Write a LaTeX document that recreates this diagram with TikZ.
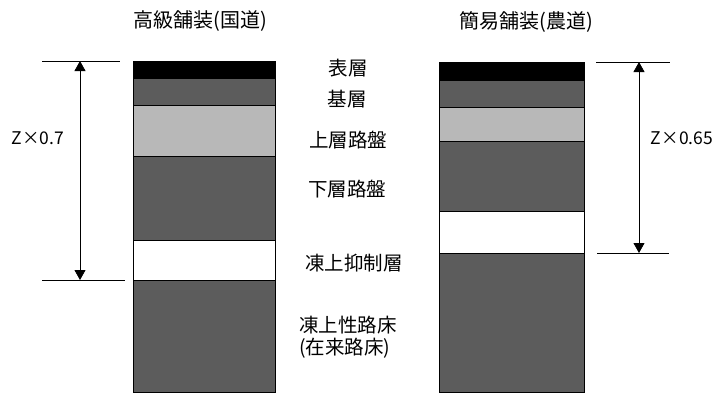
\documentclass[tikz,border=0pt]{standalone}
\usepackage{fontspec}
\setmainfont{Noto Sans CJK JP}
\usetikzlibrary{arrows.meta}
\definecolor{darkg}{gray}{0.36}
\definecolor{lightg}{gray}{0.72}
\begin{document}
\begin{tikzpicture}[x=1pt,y=-1pt,
  layer/.style={draw=black,line width=0.8pt,anchor=north west,inner sep=0pt,minimum width=#1},
  lbl/.style={font=\fontsize{19.5}{22}\selectfont,inner sep=0pt},
  ttl/.style={font=\fontsize{20}{22}\selectfont,inner sep=0pt},
  zl/.style={font=\fontsize{17.5}{19}\selectfont,inner sep=0pt},
  refline/.style={line width=0.8pt},
  dim/.style={line width=0.8pt,{Triangle[width=11pt,length=10pt]}-{Triangle[width=11pt,length=10pt]}}]
\useasboundingbox (0,0) rectangle (726,392);
% left column
\node[layer=142pt,fill=black,minimum height=17pt] (l1) at (133,61) {};
\node[layer=142pt,fill=darkg,minimum height=27pt] (l2) at (133,78) {};
\node[layer=142pt,fill=lightg,minimum height=51pt] (l3) at (133,105) {};
\node[layer=142pt,fill=darkg,minimum height=84pt] (l4) at (133,156) {};
\node[layer=142pt,fill=white,minimum height=40pt] (l5) at (133,240) {};
\node[layer=142pt,fill=darkg,minimum height=112pt] (l6) at (133,280) {};
% right column
\node[layer=145pt,fill=black,minimum height=18pt] (r1) at (439,62) {};
\node[layer=145pt,fill=darkg,minimum height=27pt] (r2) at (439,80) {};
\node[layer=145pt,fill=lightg,minimum height=34pt] (r3) at (439,107) {};
\node[layer=145pt,fill=darkg,minimum height=70pt] (r4) at (439,141) {};
\node[layer=145pt,fill=white,minimum height=42pt] (r5) at (439,211) {};
\node[layer=145pt,fill=darkg,minimum height=139pt] (r6) at (439,253) {};
% titles
\node[ttl] (t1) at (200,21) {高級舗装(国道)};
\node[ttl] (t2) at (526,22) {簡易舗装(農道)};
% layer labels
\node[lbl] (n1) at (348,68) {表層};
\node[lbl] (n2) at (347,99) {基層};
\node[lbl] (n3) at (348,140) {上層路盤};
\node[lbl] (n4) at (347,189) {下層路盤};
\node[lbl] (n5) at (354,263) {凍上抑制層};
\node[lbl,anchor=west] (n6) at (299,325) {凍上性路床};
\node[lbl,anchor=west] (n7) at (299,348) {(在来路床)};
% left dimension
\coordinate (la) at (42,61);
\coordinate (lb) at (120,61);
\coordinate (lc) at (42,280);
\coordinate (ld) at (125,280);
\coordinate (lt) at (80,61);
\coordinate (lbt) at (80,280);
\draw[refline] (la) -- (lb);
\draw[refline] (lc) -- (ld);
\draw[dim] (lt) -- (lbt);
\node[zl] (z1) at (38,138) {Z×0.7};
% right dimension
\coordinate (ra) at (596,62);
\coordinate (rb) at (670,62);
\coordinate (rc) at (597,253);
\coordinate (rd) at (669,253);
\coordinate (rt) at (639,62);
\coordinate (rbt) at (639,253);
\draw[refline] (ra) -- (rb);
\draw[refline] (rc) -- (rd);
\draw[dim] (rt) -- (rbt);
\node[zl] (z2) at (682,138) {Z×0.65};
\end{tikzpicture}
\end{document}
